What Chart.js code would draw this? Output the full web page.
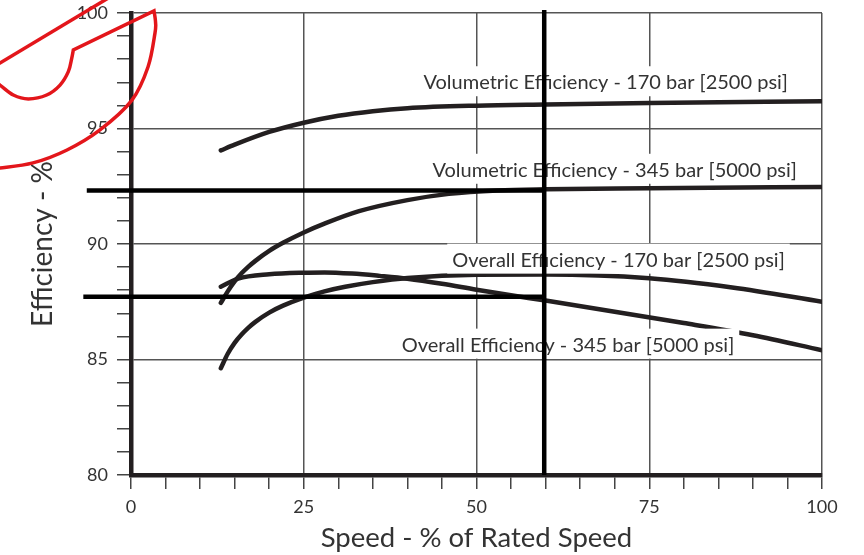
<!DOCTYPE html>
<html>
<head>
<meta charset="utf-8">
<script src="https://cdn.jsdelivr.net/npm/chart.js@4.4.1/dist/chart.umd.min.js"></script>
<style>
  html, body { margin: 0; padding: 0; background: #fff; }
  canvas { display: block; }
</style>
</head>
<body>
<canvas id="chart" width="864" height="555"></canvas>
<script>
// curves (speed %, efficiency %)
var volSpeed170 = [13, 15, 20, 25, 30, 35, 40, 50, 60, 75, 100];
var volEff170   = [94.05, 94.3, 94.85, 95.25, 95.55, 95.75, 95.88, 95.99, 96.04, 96.1, 96.18];

var volSpeed345 = [13, 14, 15, 16, 17, 18, 20, 22, 25, 28, 33, 40, 46, 53, 60, 75, 100];
var volEff345   = [87.45, 87.95, 88.38, 88.73, 89.02, 89.27, 89.7, 90.05, 90.5, 90.88, 91.42, 91.9, 92.17, 92.32, 92.37, 92.41, 92.47];

var allSpeed345 = [13, 15.5, 20, 25, 28, 32, 36, 40, 45, 50, 55, 60, 70, 80, 90, 100];
var allEff345   = [88.15, 88.5, 88.69, 88.76, 88.77, 88.72, 88.62, 88.5, 88.28, 88.02, 87.78, 87.55, 87.07, 86.58, 86.05, 85.4];

var allSpeed170 = [13, 14, 15, 16, 17, 18, 20, 22, 25, 28, 31, 35, 40, 50, 60, 75, 87, 100];
var allEff170   = [84.62, 85.25, 85.72, 86.08, 86.38, 86.63, 87.03, 87.33, 87.68, 87.95, 88.15, 88.35, 88.53, 88.67, 88.68, 88.52, 88.12, 87.5];

// curve captions (text, centre speed, baseline efficiency)
var captionText = [
  'Volumetric Efficiency - 170 bar [2500 psi]',
  'Volumetric Efficiency - 345 bar [5000 psi]',
  'Overall Efficiency - 170 bar [2500 psi]',
  'Overall Efficiency - 345 bar [5000 psi]'
];
var captionSpeed = [68.7, 70.0, 70.55, 63.24];
var captionEff   = [96.70, 92.91, 89.02, 85.34];

// hand drawn read-off lines
var markSpeed = 59.8;
var markTop = 100.13;
var markEff = [92.32, 87.72];
var markStart = [-6.4, -6.9];

// red scribble, in axis units
var redBowlX = [-20.4, -18.96, -17.03, -14.86, -12.2, -10.27, -9.07, -8.58, -8.35];
var redBowlY = [97.14, 96.88, 96.45, 96.28, 96.45, 96.88, 97.46, 98.04, 98.40];
var redArcX = [3.33, 3.55, 3.47, 2.46, 0.14, -4.49, -9.26, -14.18, -18.96, -20.4];
var redArcY = [100.09, 99.61, 99.13, 97.66, 96.23, 94.94, 94.07, 93.51, 93.29, 93.25];
var redEdgeX = [-21.85, -0.87];
var redEdgeY = [97.32, 101.08];

var ink = '#231f20';
var textCol = '#333333';
Chart.defaults.font.family = 'Lato';

function toPoints(xs, ys) {
  return xs.map(function (x, i) { return { x: x, y: ys[i] }; });
}

function curve(label, xs, ys) {
  return {
    label: label,
    data: toPoints(xs, ys),
    borderColor: ink,
    borderWidth: 4.5,
    borderCapStyle: 'round',
    pointRadius: 0,
    fill: false,
    cubicInterpolationMode: 'monotone'
  };
}

function smoothTo(ctx, pts) {
  for (var i = 0; i < pts.length - 1; i++) {
    var p0 = pts[i - 1] || pts[i], p1 = pts[i], p2 = pts[i + 1], p3 = pts[i + 2] || p2;
    ctx.bezierCurveTo(p1.x + (p2.x - p0.x) / 6, p1.y + (p2.y - p0.y) / 6,
                      p2.x - (p3.x - p1.x) / 6, p2.y - (p3.y - p1.y) / 6, p2.x, p2.y);
  }
}

var decorations = {
  id: 'decorations',
  afterDatasetsDraw: function (chart) {
    var ctx = chart.ctx, xs = chart.scales.x, ys = chart.scales.y;
    ctx.save();
    ctx.font = '20px Lato';
    ctx.textAlign = 'center';
    ctx.textBaseline = 'alphabetic';
    captionText.forEach(function (t, i) {
      var cx = xs.getPixelForValue(captionSpeed[i]);
      var by = ys.getPixelForValue(captionEff[i]);
      var w = ctx.measureText(t).width;
      ctx.fillStyle = '#fff';
      ctx.fillRect(cx - w / 2 - 5, by - 23, w + 10, 30);
      ctx.fillStyle = textCol;
      ctx.fillText(t, cx, by);
    });
    ctx.restore();
  },
  afterDraw: function (chart) {
    var ctx = chart.ctx, xs = chart.scales.x, ys = chart.scales.y;
    var px = function (v) { return xs.getPixelForValue(v); };
    var py = function (v) { return ys.getPixelForValue(v); };
    ctx.save();
    // black read-off lines
    ctx.strokeStyle = '#000';
    ctx.lineWidth = 4.5;
    markEff.forEach(function (e, i) {
      ctx.beginPath();
      ctx.moveTo(px(markStart[i]), py(e));
      ctx.lineTo(px(markSpeed), py(e));
      ctx.stroke();
    });
    ctx.beginPath();
    ctx.moveTo(px(markSpeed), py(markTop));
    ctx.lineTo(px(markSpeed), py(80));
    ctx.stroke();

    // red scribble
    var bowl = redBowlX.map(function (x, i) { return { x: px(x), y: py(redBowlY[i]) }; });
    var arc = redArcX.map(function (x, i) { return { x: px(x), y: py(redArcY[i]) }; });
    ctx.strokeStyle = '#e3161b';
    ctx.lineWidth = 3.5;
    ctx.beginPath();
    ctx.moveTo(bowl[0].x, bowl[0].y);
    smoothTo(ctx, bowl);
    ctx.lineTo(arc[0].x, arc[0].y);
    smoothTo(ctx, arc);
    ctx.stroke();
    ctx.beginPath();
    ctx.moveTo(px(redEdgeX[0]), py(redEdgeY[0]));
    ctx.lineTo(px(redEdgeX[1]), py(redEdgeY[1]));
    ctx.stroke();
    ctx.restore();
  }
};

var ctx = document.getElementById('chart').getContext('2d');
var chart = new Chart(ctx, {
  type: 'line',
  data: {
    datasets: [
      curve('Volumetric Efficiency - 170 bar', volSpeed170, volEff170),
      curve('Volumetric Efficiency - 345 bar', volSpeed345, volEff345),
      curve('Overall Efficiency - 345 bar', allSpeed345, allEff345),
      curve('Overall Efficiency - 170 bar', allSpeed170, allEff170)
    ]
  },
  plugins: [decorations],
  options: {
    responsive: false,
    animation: false,
    devicePixelRatio: 1,
    layout: { autoPadding: false, padding: { left: 0, right: 42, top: 13, bottom: 0 } },
    plugins: { legend: { display: false }, tooltip: { enabled: false } },
    scales: {
      x: {
        type: 'linear',
        min: 0,
        max: 100,
        afterFit: function (scale) { scale.height = 80; },
        border: { color: ink, width: 4.5 },
        grid: {
          color: function (c) { return c.tick && c.tick.value % 25 === 0 ? '#555' : 'rgba(0,0,0,0)'; },
          tickColor: '#444',
          lineWidth: 1.5,
          tickWidth: 1.5,
          tickLength: 14
        },
        ticks: {
          stepSize: 5,
          autoSkip: false,
          maxRotation: 0,
          padding: 7,
          color: textCol,
          font: { size: 18 },
          callback: function (v) { return v % 25 === 0 ? v : ''; }
        },
        title: {
          display: true,
          text: 'Speed - % of Rated Speed',
          color: textCol,
          font: { size: 27.5 },
          padding: { top: 0, bottom: 0 }
        }
      },
      y: {
        min: 80,
        max: 100,
        afterFit: function (scale) {
          scale.width = 131;
          scale.paddingTop = 0;
          scale.paddingBottom = 0;
        },
        border: { color: ink, width: 4.5 },
        grid: {
          color: function (c) { return c.tick && c.tick.value % 5 === 0 ? '#555' : 'rgba(0,0,0,0)'; },
          tickColor: '#444',
          lineWidth: 1.5,
          tickWidth: 1.5,
          tickLength: 14
        },
        ticks: {
          stepSize: 1,
          autoSkip: false,
          padding: 9,
          color: textCol,
          font: { size: 18 },
          callback: function (v) { return v % 5 === 0 ? v : ''; }
        },
        title: {
          display: true,
          text: 'Efficiency - %',
          color: textCol,
          font: { size: 28 },
          padding: { top: 26, bottom: 0 }
        }
      }
    }
  }
});
</script>
</body>
</html>
